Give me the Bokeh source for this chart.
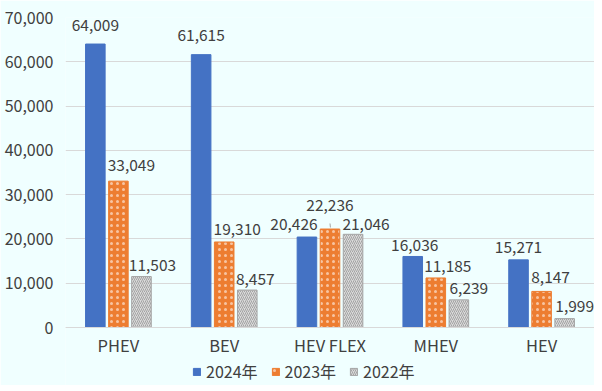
from bokeh.plotting import figure
from bokeh.models import (ColumnDataSource, FactorRange, Legend, LegendItem, NumeralTickFormatter,
                          FixedTicker, Range1d)
from bokeh.transform import dodge
from bokeh.core.properties import value
from bokeh.embed import file_html
from bokeh.resources import INLINE

categories = ["PHEV", "BEV", "HEV FLEX", "MHEV", "HEV"]
v2024 = [64009, 61615, 20426, 16036, 15271]
v2023 = [33049, 19310, 22236, 11185, 8147]
v2022 = [11503, 8457, 21046, 6239, 1999]
series_names = ["2024年", "2023年", "2022年"]
y_ticks = [0, 10000, 20000, 30000, 40000, 50000, 60000, 70000]

BG = "#F0FFFF"
FONT = "Noto Sans CJK JP"
TXT = "#404040"

# the frame runs on below zero so that the legend can sit under the category axis
Y_TOP = 70000
AXIS_PX = 310            # pixels from 0 to 70,000
BELOW_PX = 58            # pixels under the zero line for category labels and legend
y_low = -Y_TOP * BELOW_PX / AXIS_PX

p = figure(frame_width=529, frame_height=AXIS_PX + BELOW_PX,
           x_range=FactorRange(*categories, range_padding=0),
           y_range=Range1d(y_low, Y_TOP), output_backend="svg", toolbar_location=None,
           background_fill_color=BG, border_fill_color=BG, outline_line_color=None,
           min_border_left=65, min_border_right=0, min_border_top=17, min_border_bottom=0)

src = ColumnDataSource(dict(cat=categories, a=v2024, b=v2023, c=v2022,
                            la=[f"{v:,}" for v in v2024], lb=[f"{v:,}" for v in v2023],
                            lc=[f"{v:,}" for v in v2022]))

W = 0.185
OFF = 0.218
styles = [
    dict(fill_color="#4472C4", line_color="#4472C4"),
    dict(fill_color="#ED7D31", line_color="#ED7D31", hatch_pattern="dot", hatch_color="white",
         hatch_scale=6, hatch_alpha=0.55),
    dict(fill_color="#DADADA", line_color="#A5A5A5", hatch_pattern="right_diagonal_line",
         hatch_color="#A3A3A3", hatch_scale=4, hatch_weight=1),
]
renderers = []
for i, (col, st) in enumerate(zip(["a", "b", "c"], styles)):
    r = p.vbar(x=dodge("cat", (i - 1) * OFF, range=p.x_range), top=col, width=W, bottom=0,
               source=src, line_width=1, **st)
    renderers.append(r)

# label placement (screen px) as in the original chart
label_dx = {"a": [0, 0, -13, 2, 0], "b": [13, 13, 0, 12, 9], "c": [11, 8, 13, 10, 10]}
label_dy = {"a": [-13.5, -14, -6.7, -5.3, -7], "b": [-10, -7, -17.6, -6.3, -8],
            "c": [-5.3, -5, -4.4, -6, -6.3]}
for i, (col, lab) in enumerate(zip(["a", "b", "c"], ["la", "lb", "lc"])):
    s = ColumnDataSource(dict(cat=categories, v=src.data[col], t=src.data[lab],
                              dx=label_dx[col], dy=[d - 6 for d in label_dy[col]]))
    p.text(x=dodge("cat", (i - 1) * OFF, range=p.x_range), y="v", text="t", source=s,
           x_offset="dx", y_offset="dy", text_align="center", text_baseline="alphabetic",
           text_font=value(FONT), text_font_size="15.5px", text_color=TXT)

# leader line for the raised HEV FLEX 2023 label
k = categories.index("HEV FLEX")
ls = ColumnDataSource(dict(cat=[categories[k]], y0=[v2023[k] + 350], y1=[v2023[k] + 1250]))
p.segment(x0=dodge("cat", 0.004, range=p.x_range), x1=dodge("cat", 0.0, range=p.x_range),
          y0="y0", y1="y1", source=ls, line_color="#A6A6A6", line_width=1)

p.yaxis.ticker = FixedTicker(ticks=y_ticks)
p.yaxis.formatter = NumeralTickFormatter(format="0,0")
p.yaxis.axis_line_color = None
p.yaxis.major_tick_line_color = None
p.yaxis.minor_tick_line_color = None
p.yaxis.major_tick_out = 0
p.yaxis.minor_tick_out = 0
p.yaxis.major_label_standoff = 12
p.yaxis.major_label_text_font = FONT
p.yaxis.major_label_text_font_size = "16px"
p.yaxis.major_label_text_color = TXT

p.xaxis.fixed_location = 0
p.xaxis.axis_line_color = "#D9D9D9"
p.xaxis.major_tick_line_color = None
p.xaxis.minor_tick_line_color = None
p.xaxis.major_tick_out = 0
p.xaxis.minor_tick_out = 0
p.xaxis.major_label_standoff = 5
p.xaxis.major_label_text_font = FONT
p.xaxis.major_label_text_font_size = "16.5px"
p.xaxis.major_label_text_color = TXT

p.xgrid.grid_line_color = None
p.ygrid.grid_line_color = "#D9D9D9"
p.ygrid.grid_line_width = 1

legend = Legend(items=[LegendItem(label=n, renderers=[r]) for n, r in zip(series_names, renderers)],
                orientation="horizontal", location=(127, 2), background_fill_alpha=0,
                border_line_color=None, label_text_font=FONT, label_text_font_size="16px",
                label_text_color=TXT, glyph_width=9, glyph_height=9, spacing=13,
                label_standoff=5, padding=0, margin=0)
p.add_layout(legend, "center")

open("out.html", "w").write(file_html(p, INLINE))
